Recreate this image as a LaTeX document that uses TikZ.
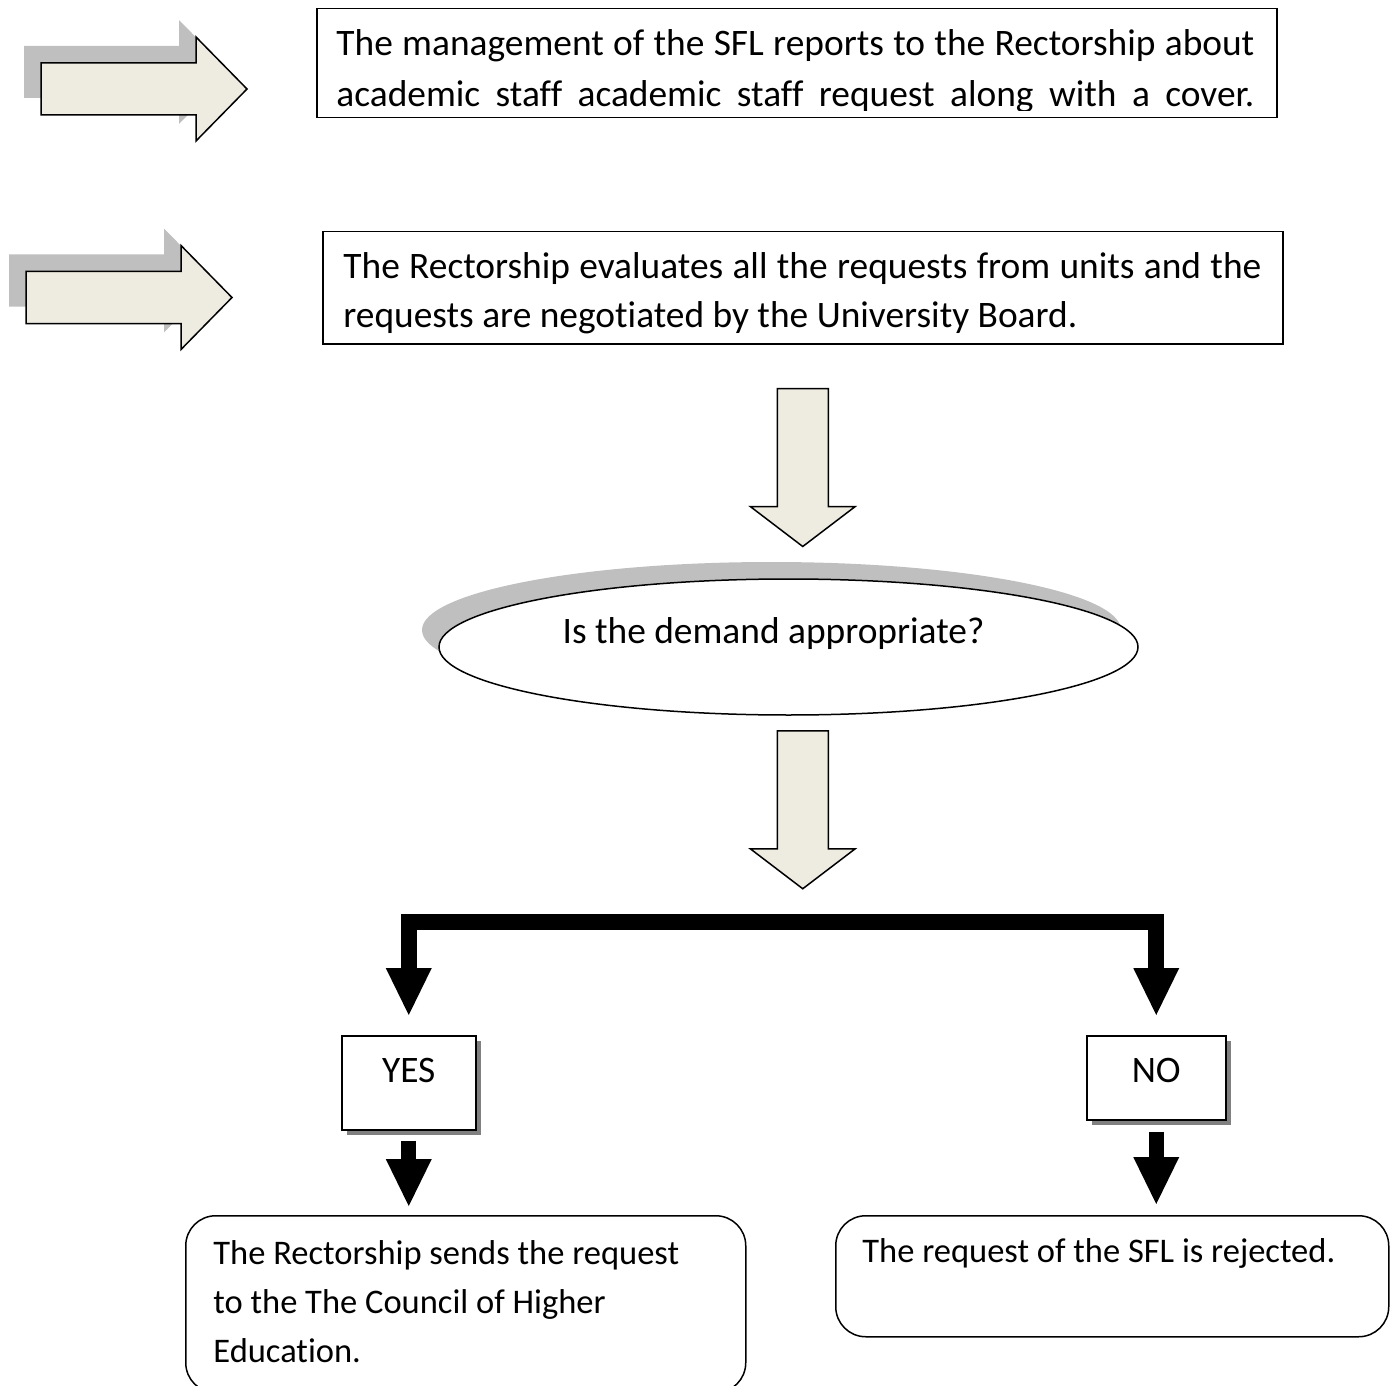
\documentclass[tikz,border=0pt]{standalone}
\usepackage{fontspec}
\setmainfont{Carlito}[Ligatures=NoCommon]
\usepackage{xcolor}
\usepackage{tikz}
\usetikzlibrary{arrows.meta,positioning,calc,shapes.geometric,shadows}
\definecolor{cBlock}{HTML}{EEECE1}
\definecolor{cShade}{HTML}{BFBFBF}
\definecolor{cDrop}{HTML}{808080}
\newcommand{\bodyfont}{\fontsize{17.25}{25.5}\selectfont}
\newcommand{\headfont}{\fontsize{18.7}{25.5}\selectfont}
\tikzset{
  frame/.style={draw, line width=0.75pt, inner sep=0pt, anchor=north west},
  lines/.style={inner sep=0pt, anchor=north west, align=left, font=\bodyfont},
  answer/.style={draw, line width=0.75pt, fill=white, inner sep=0pt, anchor=north west, font=\headfont,
                 drop shadow={shadow xshift=2.5pt, shadow yshift=-2.5pt, fill=cDrop, opacity=1}},
  result/.style={draw, rounded corners=15pt, line width=0.75pt, inner sep=0pt, anchor=north west},
  decision/.style={ellipse, draw, line width=0.75pt, fill=white, inner sep=0pt,
                   minimum width=349.5pt, minimum height=68pt,
                   general shadow={fill=cShade, shadow xshift=-8.5pt, shadow yshift=8.5pt}},
  fork/.style={line width=8pt, -{Triangle[width=23pt, length=23.5pt, line width=0pt]}},
  blockfill/.style={fill=cBlock, draw, line width=0.75pt},
  blockshade/.style={fill=cShade},
  rightblock/.pic={
    \path[blockshade, shift={(-17,-17)}] (0,-26) -- (155,-26) -- (155,-52) -- (206,0) -- (155,52) -- (155,26) -- (0,26) -- cycle;
    \path[blockfill] (0,-26) -- (155,-26) -- (155,-52) -- (206,0) -- (155,52) -- (155,26) -- (0,26) -- cycle;
  },
  downblock/.pic={
    \path[blockfill] (-25.5,0) -- (-25.5,118) -- (-52.5,118) -- (0,158) -- (52.5,118) -- (25.5,118) -- (25.5,0) -- cycle;
  },
}

\begin{document}
\begin{tikzpicture}[x=0.5pt, y=-0.5pt]
  \useasboundingbox (0,0) rectangle (1394,1386);
  % step 1 --- report of the SFL
  \coordinate (a1) at (41,89);
  \pic at (a1) {rightblock};
  \node[frame, minimum width=480pt, minimum height=54.5pt] (b1) at (316,8) {};
  \begin{scope}
    \clip (b1.north west) rectangle ([yshift=4pt]b1.south east);
    \node[lines, font=\headfont] (b1txt) at ([shift={(20,21)}]b1.north west)
      {\makebox[459pt][s]{The management of the SFL reports to the Rectorship about}\\
       \makebox[459pt][s]{academic staff academic staff request along with a cover.}};
  \end{scope}
  % step 2 --- evaluation by the Rectorship
  \coordinate (a2) at (26,297.5);
  \pic at (a2) {rightblock};
  \node[frame, minimum width=480pt, minimum height=56pt] (b2) at (322,231) {};
  \begin{scope}
    \clip (b2.north west) rectangle ([yshift=4.5pt]b2.south east);
    \node[lines, font=\headfont] (b2txt) at ([shift={(21,21)}]b2.north west)
      {\makebox[459pt][s]{The Rectorship evaluates all the requests from units and the}\\[-1pt]
       requests are negotiated by the University Board.};
  \end{scope}
  % decision
  \coordinate (d1) at ([yshift=-22pt]b2.south);
  \pic at (d1) {downblock};
  \node[decision] (q) at (788.5,647) {};
  \node[font=\headfont, inner sep=0pt] (qtxt) at ([shift={(-15,-13)}]q.center) {Is the demand appropriate?};
  \coordinate (d2) at ([yshift=-7.5pt]q.south -| d1);
  \pic at (d2) {downblock};
  % yes / no branches
  \coordinate (fk) at ([yshift=-95.5pt]d2);
  \node[answer, minimum width=67pt, text height=23.5pt, text depth=23.5pt] (yes) at (341,1035) {YES};
  \node[answer, minimum width=69.5pt, text height=23.5pt, text depth=18.5pt] (no) at (1086,1035) {NO};
  \draw[fork, shorten >=10pt] (fk) -| (yes.north);
  \draw[fork, shorten >=10pt] (fk) -| (no.north);
  \node[result, minimum width=280pt, minimum height=88.5pt] (yesres) at (185,1215) {};
  \node[lines, font=\fontsize{17.25}{24.5}\selectfont] (yestxt) at ([shift={(28,25)}]yesres.north west)
    {The Rectorship sends the request\\to the The Council of Higher\\Education.};
  \node[result, minimum width=276.5pt, minimum height=60.5pt] (nores) at (835,1215) {};
  \node[lines] (notxt) at ([shift={(27,23)}]nores.north west) {The request of the SFL is rejected.};
  \draw[fork, line width=7.5pt, shorten <=5pt, shorten >=4.5pt] (yes.south) -- (yes.south |- yesres.north);
  \draw[fork, line width=7.5pt, shorten <=5.5pt, shorten >=5.5pt] (no.south) -- (no.south |- nores.north);
\end{tikzpicture}
\end{document}
